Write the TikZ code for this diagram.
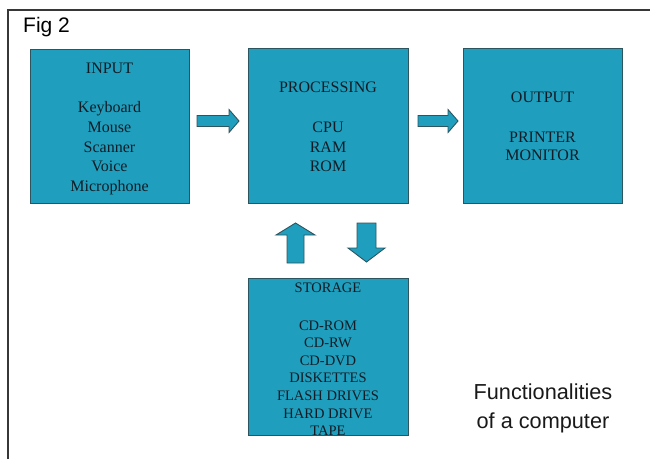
\documentclass[tikz,border=0pt]{standalone}
\usepackage{fontspec}
\setmainfont{Liberation Serif}
\newfontfamily\captionfont{Liberation Sans}
\usetikzlibrary{calc}

\definecolor{boxfill}{RGB}{31,159,189}
\definecolor{boxline}{RGB}{45,85,95}
\definecolor{boxtext}{RGB}{18,28,38}
\definecolor{framegray}{RGB}{55,55,55}

\tikzset{
  unitbox/.style={draw=boxline, line width=1.2pt, fill=boxfill, inner sep=0pt,
    anchor=north west},
  titletext/.style={text=boxtext, inner sep=0pt, font=\fontsize{16}{19.6}\selectfont},
  listtext/.style={text=boxtext, inner sep=0pt, align=center, anchor=north,
    font=\fontsize{16}{19.6}\selectfont},
  blockarrow/.style={draw=boxline, line width=0.9pt, fill=boxfill, line join=miter},
}

% horizontal block arrow: tail coordinate, tip coordinate
\newcommand\rightblock[2]{%
  \draw[blockarrow] ($(#1)+(0,-5.5)$) -- ($(#2)+(-10,-5.5)$) -- ($(#2)+(-10,-11.5)$)
    -- (#2) -- ($(#2)+(-10,11.5)$) -- ($(#2)+(-10,5.5)$) -- ($(#1)+(0,5.5)$) -- cycle;}
% vertical block arrow pointing up: tail (bottom), tip (top)
\newcommand\upblock[2]{%
  \draw[blockarrow] ($(#1)+(-8.5,0)$) -- ($(#2)+(-8.5,12)$) -- ($(#2)+(-19.5,12)$)
    -- (#2) -- ($(#2)+(19.5,12)$) -- ($(#2)+(8.5,12)$) -- ($(#1)+(8.5,0)$) -- cycle;}
% vertical block arrow pointing down: tail (top), tip (bottom)
\newcommand\downblock[2]{%
  \draw[blockarrow] ($(#1)+(-9.5,0)$) -- ($(#2)+(-9.5,-14)$) -- ($(#2)+(-18.5,-14)$)
    -- (#2) -- ($(#2)+(18.5,-14)$) -- ($(#2)+(9.5,-14)$) -- ($(#1)+(9.5,0)$) -- cycle;}

\begin{document}
\begin{tikzpicture}[x=1pt, y=-1pt]
  \useasboundingbox (0,0) rectangle (650,459);

  % open frame
  \draw[framegray, line width=1.3pt] (8,459) -- (8,10) -- (650,10);

  \node[anchor=base west, inner sep=0pt, font=\captionfont\fontsize{21}{25}\selectfont]
    (fig) at (23,32.7) {Fig 2};

  % unit boxes
  \node[unitbox, minimum width=159pt, minimum height=154pt] (input) at (30,49) {};
  \node[unitbox, minimum width=160pt, minimum height=155pt] (proc) at (248,48) {};
  \node[unitbox, minimum width=159pt, minimum height=155pt] (output) at (463,48) {};
  \node[unitbox, minimum width=160pt, minimum height=157pt] (storage) at (248,278) {};

  % box contents
  \node[titletext] (input-title) at (109.5,68) {INPUT};
  \node[listtext] (input-list) at (109.5,101.5)
    {Keyboard\\Mouse\\Scanner\\Voice\\Microphone};

  \node[titletext] (proc-title) at (328,87) {PROCESSING};
  \node[listtext] (proc-list) at (328,121.7) {CPU\\RAM\\ROM};

  \node[titletext] (output-title) at (542.5,97) {OUTPUT};
  \node[listtext, font=\fontsize{16}{18.5}\selectfont] (output-list) at (542.5,131.7)
    {PRINTER\\MONITOR};

  \node[titletext, font=\fontsize{14.5}{17.6}\selectfont] (storage-title) at (328,288) {STORAGE};
  \node[listtext, font=\fontsize{14.5}{17.6}\selectfont] (storage-list) at (328,320.2)
    {CD-ROM\\CD-RW\\CD-DVD\\DISKETTES\\FLASH DRIVES\\HARD DRIVE\\TAPE};

  % arrow end points
  \coordinate (a1tail) at (197,121);
  \coordinate (a1tip)  at (239,121);
  \coordinate (a2tail) at (418,121);
  \coordinate (a2tip)  at (458,121);
  \coordinate (uptail) at (295.5,263);
  \coordinate (uptip)  at (295.5,223);
  \coordinate (dntail) at (366.5,223);
  \coordinate (dntip)  at (366.5,262);

  \rightblock{a1tail}{a1tip}
  \rightblock{a2tail}{a2tip}
  \upblock{uptail}{uptip}
  \downblock{dntail}{dntip}

  % caption
  \node[anchor=north, align=center, inner sep=0pt, text=black!90,
        font=\captionfont\fontsize{21.7}{29}\selectfont] (caption) at (543,384)
    {Functionalities\\of a computer};
\end{tikzpicture}
\end{document}
